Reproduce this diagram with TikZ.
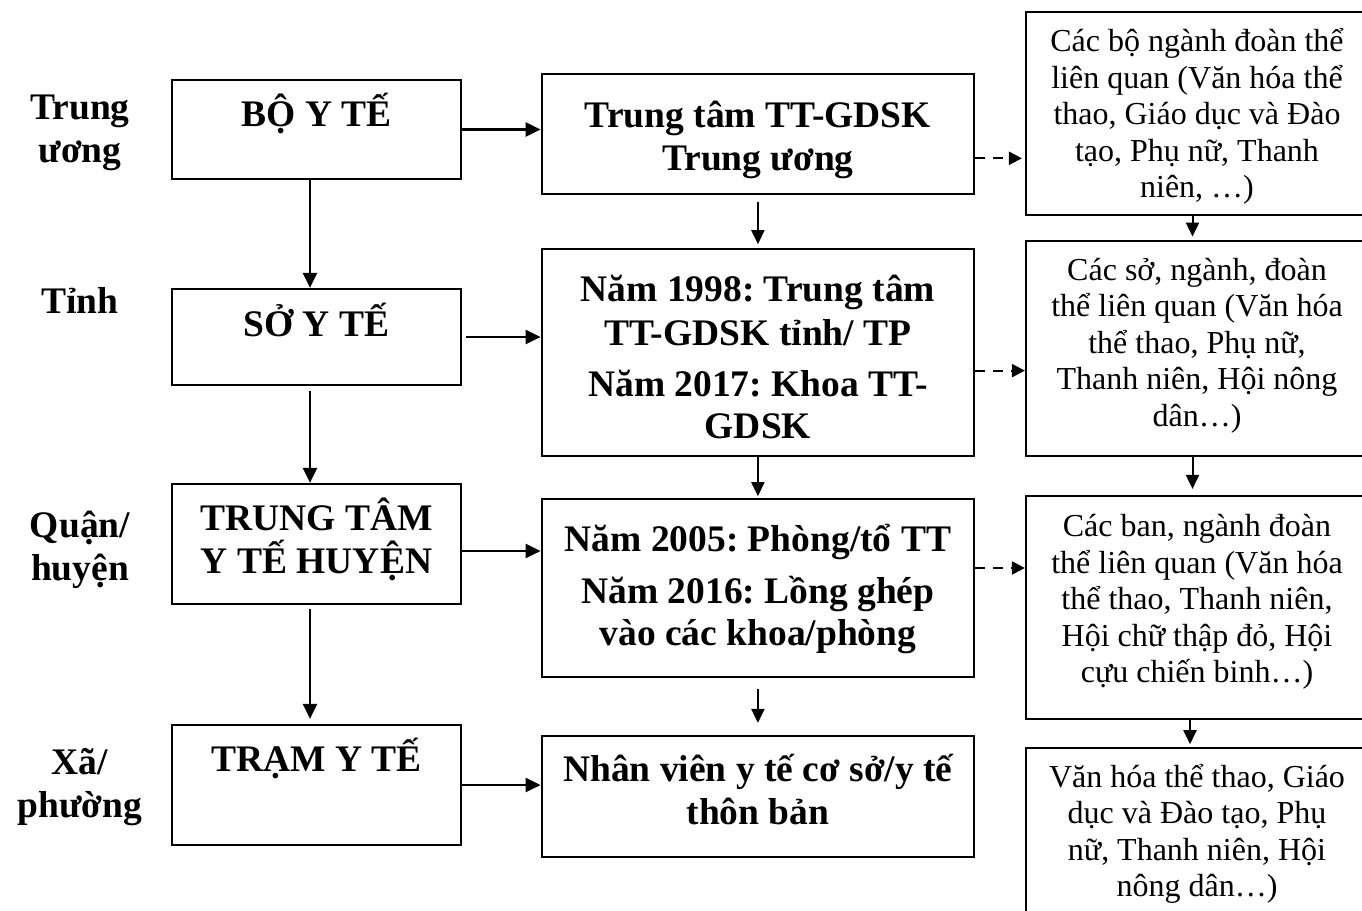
\documentclass[tikz,border=0pt]{standalone}
\usepackage{fontspec}
\setmainfont{Liberation Serif}
\usetikzlibrary{arrows.meta,calc}
\frenchspacing

% centred lines with a fixed baseline-to-baseline distance; baseline = first line
\newcommand\txtlines[1]{\vtop{\lineskiplimit=-100pt\lineskip=0pt\halign{\hfil##\hfil\cr#1\crcr}}}

\tikzset{
  box/.style={draw=black, line width=2.2pt, inner sep=0pt},
  boldtxt/.style={font=\fontsize{37.5}{43}\selectfont\bfseries\frenchspacing, inner sep=0pt, anchor=base},
  plaintxt/.style={font=\fontsize{32}{36.5}\selectfont\frenchspacing, inner sep=0pt, anchor=base},
  arr/.style={line width=2.6pt, -{Triangle[length=15pt,width=14pt]}},
  arrthin/.style={line width=2pt, -{Triangle[length=14pt,width=13pt]}},
  darr/.style={line width=2.2pt, dash pattern=on 10pt off 8pt, -{Triangle[length=13pt,width=13pt]}},
}

\begin{document}
\begin{tikzpicture}[x=1pt,y=-1pt]
\useasboundingbox (0,0) rectangle (1362,910);
\fill[white] (0,0) rectangle (1362,910);
\clip (0,0) rectangle (1362,910);

% level labels
\node[boldtxt] (lbl1) at (80,119.3) {\txtlines{Trung\cr ương}};
\node[boldtxt] (lbl2) at (80,313.3) {\txtlines{Tỉnh}};
\node[boldtxt] (lbl3) at (80,537) {\txtlines{Quận/\cr huyện}};
\node[boldtxt] (lbl4) at (80,774) {\txtlines{Xã/\cr phường}};

% health administration column
\node[box, minimum width=289pt, minimum height=99pt] (bo) at (316.5,129.5) {};
\node[box, minimum width=289pt, minimum height=96pt] (so) at (316.5,337) {};
\node[box, minimum width=289pt, minimum height=120pt] (ttyt) at (316.5,544) {};
\node[box, minimum width=289pt, minimum height=120pt] (tram) at (316.5,785) {};
\node[boldtxt] (t-bo) at (316.5,126) {BỘ Y TẾ};
\node[boldtxt] (t-so) at (316.5,336) {SỞ Y TẾ};
\node[boldtxt] (t-ttyt) at (316.5,530.5) {\txtlines{TRUNG TÂM\cr Y TẾ HUYỆN}};
\node[boldtxt] (t-tram) at (316.5,771.7) {TRẠM Y TẾ};

% health education column
\node[box, minimum width=432.3pt, minimum height=120pt] (c2a) at (757.9,134) {};
\node[box, minimum width=432.3pt, minimum height=206.7pt] (c2b) at (757.9,352.65) {};
\node[box, minimum width=432.3pt, minimum height=177.4pt] (c2c) at (757.9,588) {};
\node[box, minimum width=432.3pt, minimum height=120.7pt] (c2d) at (757.9,796.35) {};
\node[boldtxt] (t-c2a) at (757.9,127.3) {\txtlines{Trung tâm TT-GDSK\cr Trung ương}};
\node[boldtxt] (t-c2b) at (757.9,301.7) {\txtlines{Năm 1998: Trung tâm\cr\noalign{\vskip1pt} TT-GDSK tỉnh/ TP\cr\noalign{\vskip8pt} Năm 2017: Khoa TT-\cr\noalign{\vskip-1pt} GDSK}};
\node[boldtxt] (t-c2c) at (757.9,551.7) {\txtlines{Năm 2005: Phòng/tổ TT\cr\noalign{\vskip8.6pt} Năm 2016: Lồng ghép\cr\noalign{\vskip-1.3pt} vào các khoa/phòng}};
\node[boldtxt] (t-c2d) at (757.9,781.7) {\txtlines{Nhân viên y tế cơ sở/y tế\cr thôn bản}};

% partner sectors column
\node[box, minimum width=342pt, minimum height=203.3pt] (c3a) at (1197,113.35) {};
\node[box, minimum width=342pt, minimum height=215.3pt] (c3b) at (1197,348.35) {};
\node[box, minimum width=342pt, minimum height=223.3pt] (c3c) at (1197,607.65) {};
\node[box, minimum width=342pt, minimum height=186.7pt] (c3d) at (1197,841.65) {};
\node[plaintxt] (t-c3a) at (1197,51.7) {\txtlines{Các bộ ngành đoàn thể\cr liên quan (Văn hóa thể\cr thao, Giáo dục và Đào\cr tạo, Phụ nữ, Thanh\cr niên, …)}};
\node[plaintxt] (t-c3b) at (1197,280) {\txtlines{Các sở, ngành, đoàn\cr thể liên quan (Văn hóa\cr thể thao, Phụ nữ,\cr Thanh niên, Hội nông\cr dân…)}};
\node[plaintxt] (t-c3c) at (1197,536.5) {\txtlines{Các ban, ngành đoàn\cr thể liên quan (Văn hóa\cr thể thao, Thanh niên,\cr Hội chữ thập đỏ, Hội\cr cựu chiến binh…)}};
\node[plaintxt] (t-c3d) at (1197,787) {\txtlines{Văn hóa thể thao, Giáo\cr dục và Đào tạo, Phụ\cr nữ, Thanh niên, Hội\cr nông dân…)}};

% horizontal links, administration -> education
\draw[arr] (bo.east) -- (bo.east -| c2a.west);
\draw[arr, shorten <=4pt] (so.east) -- (so.east -| c2b.west);
\coordinate (h3) at ($(ttyt.east)+(0,7)$);
\draw[arr] (h3) -- (h3 -| c2c.west);
\draw[arr] (tram.east) -- (tram.east -| c2d.west);

% vertical links, administration column
\coordinate (v1) at ($(bo.south)+(-6.5,0)$);
\draw[arr] (v1) -- (v1 |- so.north);
\coordinate (v2) at ($(so.south)+(-6.5,0)$);
\draw[arr, shorten <=5pt] (v2) -- (v2 |- ttyt.north);
\coordinate (v3) at ($(ttyt.south)+(-6.5,0)$);
\draw[arr, shorten <=4pt, shorten >=5pt] (v3) -- (v3 |- tram.north);

% vertical links, education column
\draw[arrthin, shorten <=7pt, shorten >=4pt] (c2a.south) -- (c2b.north);
\draw[arrthin, shorten >=2pt] (c2b.south) -- (c2c.north);
\draw[arrthin, shorten <=11pt, shorten >=12pt] (c2c.south) -- (c2d.north);

% vertical links, partner column
\coordinate (w1) at ($(c3a.south)+(-4.5,0)$);
\draw[arrthin, shorten >=3pt] (w1) -- (w1 |- c3b.north);
\coordinate (w2) at ($(c3b.south)+(-4.5,0)$);
\draw[arrthin, shorten >=6pt] (w2) -- (w2 |- c3c.north);
\coordinate (w3) at ($(c3c.south)+(-7,-2.5)$);
\draw[arrthin, shorten >=3pt] (w3) -- (w3 |- c3d.north);

% dashed links, education -> partners
\coordinate (d1) at ($(c2a.east)+(0,24.3)$);
\draw[darr, shorten >=3pt] (d1) -- (d1 -| c3a.west);
\coordinate (d2) at ($(c2b.east)+(0,18)$);
\draw[darr] (d2) -- (d2 -| c3b.west);
\coordinate (d3) at ($(c2c.east)+(0,-20)$);
\draw[darr] (d3) -- (d3 -| c3c.west);
\end{tikzpicture}
\end{document}
